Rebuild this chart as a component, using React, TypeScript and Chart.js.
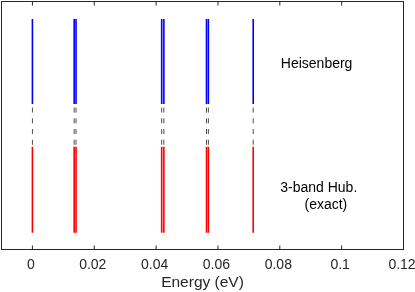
import { useEffect, useRef } from "react";
import { Chart, registerables } from "chart.js";

Chart.register(...registerables);

// Energy levels (eV)
const heisenbergEnergies = [0, 0.0135, 0.0141, 0.0418, 0.0425, 0.0563, 0.0569, 0.0714];
const hubbardEnergies = [0, 0.0135, 0.0141, 0.0418, 0.0425, 0.0563, 0.0569, 0.0714];
// vertical extent of each spectrum (arbitrary units on a hidden 0..1 axis)
const heisenbergSpan = [0.587, 0.929];
const hubbardSpan = [0.068, 0.4145];
const xTicks = [0, 0.02, 0.04, 0.06, 0.08, 0.1, 0.12];
const xTickLabels = ["0", "0.02", "0.04", "0.06", "0.08", "0.1", "0.12"];
const xTitle = "Energy (eV)";
const heisenbergLabel = ["Heisenberg"];
const hubbardLabel = ["3-band Hub.", "(exact)"];

const FONT = "'Liberation Sans', Arial, Helvetica, sans-serif";
const AXIS = "#262626";

const framePlugin = {
  id: "frame",
  afterDraw(chart: any) {
    const { ctx, chartArea, scales } = chart;
    const { left, right, top, bottom } = chartArea;
    const x = scales.x;
    const y = scales.y;
    ctx.save();
    ctx.strokeStyle = AXIS;
    ctx.lineWidth = 1;
    ctx.strokeRect(left, top, right - left, bottom - top);
    ctx.beginPath();
    for (const v of xTicks) {
      const px = x.getPixelForValue(v);
      ctx.moveTo(px, bottom);
      ctx.lineTo(px, bottom - 4);
      ctx.moveTo(px, top);
      ctx.lineTo(px, top + 4);
    }
    ctx.stroke();

    ctx.fillStyle = "#000";
    ctx.font = `14px ${FONT}`;
    ctx.textAlign = "center";
    ctx.textBaseline = "alphabetic";
    ctx.fillText(heisenbergLabel[0], x.getPixelForValue(0.0919), y.getPixelForValue(0.731));
    ctx.fillText(hubbardLabel[0], x.getPixelForValue(0.0926), y.getPixelForValue(0.231));
    ctx.fillText(hubbardLabel[1], x.getPixelForValue(0.0949), y.getPixelForValue(0.162));
    ctx.restore();
  },
};

function makeDatasets() {
  const ds: any[] = [];
  heisenbergEnergies.forEach((e) => {
    ds.push({
      data: [
        { x: e, y: heisenbergSpan[0] },
        { x: e, y: heisenbergSpan[1] },
      ],
      borderColor: "#0000ff",
      borderWidth: 1.6,
    });
  });
  hubbardEnergies.forEach((e) => {
    ds.push({
      data: [
        { x: e, y: heisenbergSpan[0] },
        { x: e, y: hubbardSpan[1] },
      ],
      borderColor: "#4d4d4d",
      borderWidth: 1,
      borderDash: [5, 5.7],
      borderDashOffset: 7,
    });
    ds.push({
      data: [
        { x: e, y: hubbardSpan[0] },
        { x: e, y: hubbardSpan[1] },
      ],
      borderColor: "#ff0000",
      borderWidth: 1.6,
    });
  });
  return ds;
}

export default function App() {
  const ref = useRef<HTMLCanvasElement | null>(null);
  useEffect(() => {
    if (!ref.current) return;
    const chart = new Chart(ref.current, {
      type: "line",
      data: { datasets: makeDatasets() },
      options: {
        animation: false,
        responsive: true,
        maintainAspectRatio: false,
        layout: { padding: { left: 1.5, right: 11.5, top: 1.5, bottom: 0 } },
        elements: { point: { radius: 0, hoverRadius: 0 }, line: { tension: 0 } },
        plugins: { legend: { display: false }, tooltip: { enabled: false } },
        events: [],
        scales: {
          x: {
            type: "linear",
            min: -0.01,
            max: 0.12,
            grid: { display: false, drawTicks: false, tickLength: 0 },
            border: { display: false },
            afterBuildTicks: (scale: any) => {
              scale.ticks = xTicks.map((value) => ({ value }));
            },
            afterFit: (scale: any) => {
              scale.height = 42.5;
              scale.paddingLeft = 0;
              scale.paddingRight = 0;
            },
            ticks: {
              autoSkip: false,
              maxRotation: 0,
              padding: 7,
              labelOffset: -1.5,
              color: AXIS,
              font: { family: FONT, size: 14 },
              callback: (_v: any, i: number) => xTickLabels[i],
            },
            title: {
              display: true,
              text: xTitle,
              color: AXIS,
              font: { family: FONT, size: 15.5 },
              padding: { top: 0, bottom: 0 },
            },
          },
          y: { type: "linear", display: false, min: 0, max: 1 },
        },
      },
      plugins: [framePlugin],
    });
    return () => chart.destroy();
  }, []);
  return (
    <div style={{ position: "absolute", left: 0, top: 0, width: 415, height: 292 }}>
      <canvas ref={ref} />
    </div>
  );
}
